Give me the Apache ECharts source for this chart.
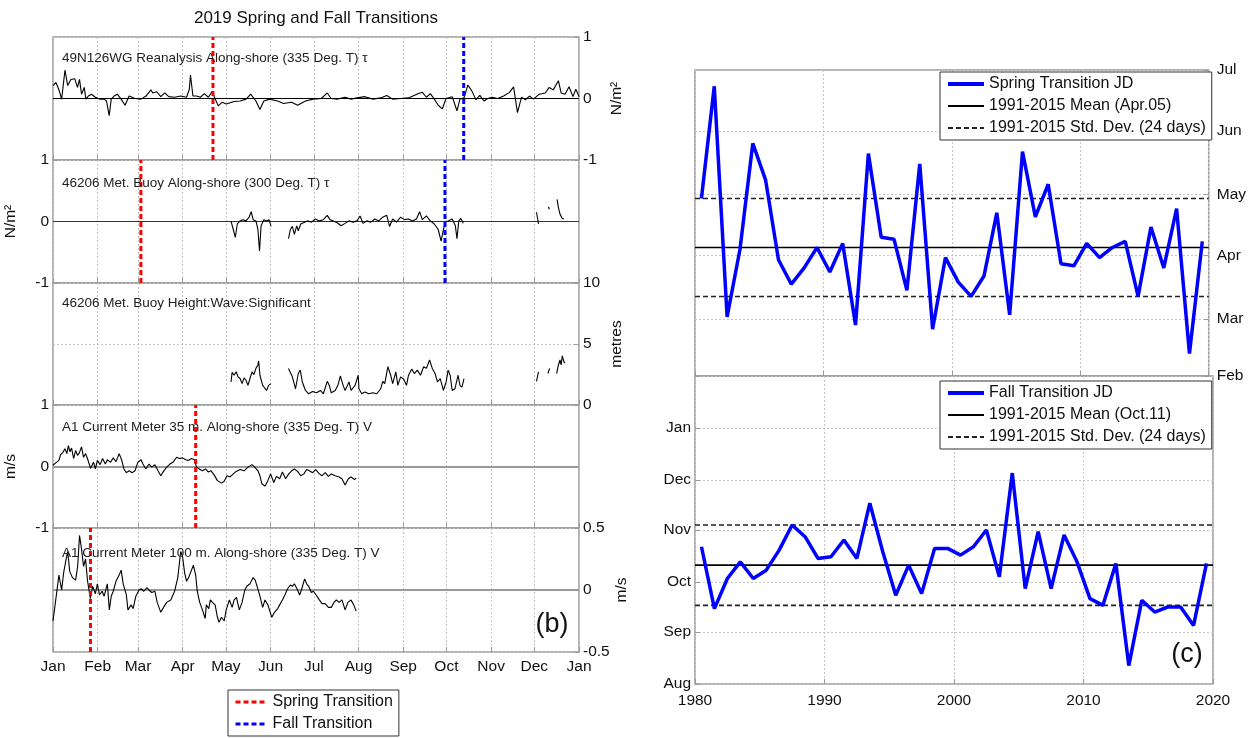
<!DOCTYPE html>
<html><head><meta charset="utf-8">
<script src="https://cdn.jsdelivr.net/npm/echarts@6/dist/echarts.min.js"></script>
<style>html,body{margin:0;padding:0;background:#fff}#c{width:1249px;height:738px}</style>
</head><body><div id="c"></div><script>
// ---------- left panel (b): day-of-year 2019 ----------
const monthDays = [0,31,59,90,120,151,181,212,243,273,304,334,365];
const monthLabels = ['Jan','Feb','Mar','Apr','May','Jun','Jul','Aug','Sep','Oct','Nov','Dec','Jan'];
const panelTitles = [
  '49N126WG Reanalysis Along-shore (335 Deg. T) \u03c4',
  '46206 Met. Buoy Along-shore (300 Deg. T) \u03c4',
  '46206 Met. Buoy Height:Wave:Significant',
  'A1 Current Meter 35 m. Along-shore (335 Deg. T) V',
  'A1 Current Meter 100 m. Along-shore (335 Deg. T) V'
];
const panelUnits = ['N/m\u00b2','N/m\u00b2','metres','m/s','m/s'];
const panelMin = [-1,-1,0,-1,-0.5];
const panelMax = [1,1,10,1,0.5];
const panelStep = [1,1,5,1,0.5];
const springDays = [111, 61, null, 99, 26];
const fallDays = [285, 272, null, null, null];

const windReanalysis = [[0,.21],[2,.26],[4,.15],[6,-.01],[8.3,.46],[10.2,.21],[12.4,.31],[15.1,.32],[17,.18],[18.4,.31],[19.8,.07],[21.7,.18],[22.8,-.01],[24.5,.04],[26.7,.07],[29.4,.02],[32.2,-.01],[35.5,-.01],[37.1,-.04],[39,-.28],[40.4,-.01],[42.4,.04],[44.6,.07],[47.3,-.01],[50,-.11],[52.8,.04],[56.9,0],[61,-.01],[64.6,.04],[67.9,.14],[69.3,.09],[72,.11],[74.8,.03],[77.6,.09],[80.3,.03],[84.4,.02],[88.6,.04],[92.7,.02],[94.6,.15],[95.4,.38],[97.1,.04],[99.6,.04],[102.3,.02],[105,.08],[107.8,.02],[110.6,.12],[112,.02],[114.7,-.12],[117.4,-.06],[120.2,-.09],[125.7,-.05],[129.8,-.04],[134,-.01],[137.2,.07],[140.8,-.04],[143.6,-.18],[146.3,-.04],[150.4,-.01],[155.9,-.04],[160,-.08],[165.6,-.06],[169.7,-.11],[175.2,-.04],[180.7,-.01],[186.2,0],[190.3,.09],[193,0],[197.2,-.01],[202.7,.02],[206.8,-.01],[211,.01],[216.4,.03],[222,-.01],[227.4,.01],[231.6,.05],[235.7,-.01],[241.2,0],[246.7,.01],[253.6,.08],[256.3,.1],[259.1,.02],[261.8,.08],[264.6,-.01],[267.3,-.11],[270.1,-.17],[272.8,0],[277,.03],[280.3,-.2],[282.4,-.01],[285.2,.01],[287.9,.22],[290.7,.12],[293.5,-.02],[296.2,.05],[299,-.04],[301.7,0],[304.5,.02],[308.6,0],[312.7,.04],[316.8,.1],[319.6,.19],[322.3,-.23],[325.1,.02],[327.8,-.02],[330.6,.04],[333.3,-.01],[337.5,.07],[341.6,.09],[344.3,.18],[347.1,.14],[350.7,.29],[352.6,.09],[355.3,.07],[358.1,.19],[360.8,.03],[362.8,.15],[365,.03]];

const windBuoy = [[123.5,.01],[125.1,-.13],[126.5,-.26],[127.9,-.04],[129.8,.01],[131.7,.03],[133.9,.01],[136.1,.07],[137.5,.16],[138.9,.03],[140.8,.01],[142.2,-.13],[143.3,-.48],[144.4,-.07],[146.3,.03],[148.2,.01],[149.9,.03],[151.3,-.08],[157,null],
[163.4,-.28],[164.7,-.13],[166.1,-.08],[167.5,-.21],[169.1,-.07],[170.2,-.15],[171.9,-.04],[173.8,-.02],[176.6,.01],[179.3,-.01],[182.1,.04],[184.8,.01],[187.6,.03],[190.3,.1],[192.2,.03],[194.4,.01],[197.2,-.02],[199.9,-.07],[202.7,-.03],[205.4,.01],[208.2,-.01],[210.9,.01],[213.1,.09],[215.1,-.03],[217.8,.01],[220.6,-.01],[223.3,.04],[226.1,.01],[228.8,.07],[231.6,.1],[233.5,-.08],[235.7,.04],[238.4,-.01],[241.2,.07],[243.9,.03],[246.7,.04],[249.4,.01],[252.2,.04],[254.4,.16],[256.3,.03],[259.1,.09],[261.8,.01],[264.6,-.04],[267.3,-.13],[269.3,-.32],[270.9,-.13],[272.3,-.01],[274.2,.01],[277,.04],[279.2,-.07],[280.3,-.28],[281.6,.01],[283,.05],[284.7,-.03],[300,null],
[335.5,.15],[336.9,-.04],[340,null],[343.8,.24],[344.4,.2],[347,null],[349.8,.36],[350.7,.23],[351.8,.12],[353.4,.05],[354.5,.04]];

const waveHeight = [[123.5,1.89],[124.3,2.67],[125.7,2.44],[127.1,2.72],[128.4,2.31],[129.8,2.17],[131.2,1.75],[132.6,2.22],[133.9,2.03],[135.3,1.61],[136.7,2.17],[138.1,2.72],[139.4,2.5],[140.8,3.0],[142.2,3.28],[142.7,3.61],[143.6,2.44],[144.4,2.58],[145.5,1.61],[146.9,1.39],[148.2,1.19],[149.6,1.61],[151.3,1.75],[157,null],
[163.4,3.0],[164.7,2.86],[166.1,2.31],[168.3,1.33],[170.2,2.58],[171.6,2.86],[173,1.89],[175.2,1.19],[177.4,0.92],[180.1,1.11],[182.9,1.0],[185.6,1.19],[187.6,0.92],[190.3,1.94],[191.7,1.61],[193.1,1.0],[195.8,1.19],[197.7,1.61],[199.4,2.39],[201.3,1.61],[202.7,1.19],[205.4,1.89],[206.8,1.19],[209.6,1.61],[211.8,2.44],[212.3,1.33],[214.2,0.92],[216.4,1.06],[219.2,0.92],[221.9,1.0],[224.7,0.92],[227.4,1.33],[228.8,1.94],[230.2,1.75],[232.4,3.14],[234.3,2.44],[235.7,1.75],[237.9,2.72],[239.3,1.61],[241.2,2.31],[243.4,2.11],[245.3,1.61],[246.7,2.44],[248.9,2.94],[250.8,2.58],[252.8,2.86],[255,2.44],[257.2,3.14],[259.1,3.0],[261.3,3.69],[263.2,3.0],[265.1,2.58],[266.8,1.89],[268.7,2.17],[270.9,1.19],[272.8,1.89],[274.2,2.86],[275.6,2.44],[277,1.19],[278.9,1.33],[281.1,2.44],[282.4,1.61],[283.8,1.47],[285.2,2.17],[300,null],
[335.5,1.94],[336.9,2.72],[340,null],[343.4,2.58],[344.6,3.0],[347,null],[349.5,2.58],[350.7,3.28],[351.8,3.69],[352.6,3.28],[353.4,4.03],[354.5,3.56],[355.3,3.42]];

const current35 = [[0,.02],[1.9,.06],[4.1,.1],[5.2,.19],[6.9,.23],[8.3,.29],[9.6,.21],[10.7,.34],[11.8,.24],[12.9,.3],[14.3,.13],[15.7,.26],[17.1,.18],[18.4,.23],[19.8,.32],[21.2,.15],[22.6,.21],[23.9,.13],[26.1,-.03],[28.1,.07],[29.4,-.04],[30.8,.1],[32.7,.03],[34.4,.13],[36.3,.04],[37.7,.11],[39.9,.07],[41.8,.14],[43.7,.08],[45.9,.21],[47.6,.11],[49.2,-.04],[50.9,-.1],[52.8,-.07],[55,-.1],[56.9,-.07],[58.9,.07],[61.1,.11],[62.4,.04],[64.4,-.04],[66.6,.04],[68.5,-.01],[70.7,.03],[72.9,-.07],[74.8,-.15],[76.7,-.08],[78.9,-.01],[81.1,.04],[83.3,.07],[85.8,.15],[87.7,.13],[89.9,.14],[92.1,.11],[94.1,.1],[96,.13],[98.2,.11],[99.6,-.01],[101.5,-.04],[103.7,-.07],[105.9,-.04],[107.8,-.09],[109.7,-.07],[111.9,-.14],[114.1,-.23],[116.9,-.27],[118.8,-.24],[120.7,-.15],[122.9,-.17],[125.1,-.12],[127.1,-.08],[129.8,-.05],[132.6,-.07],[135.3,-.01],[138.1,.03],[140,-.01],[142.2,-.07],[143.6,-.15],[144.9,-.28],[147.1,-.32],[149.1,-.23],[151,-.12],[153.2,-.26],[155.1,-.16],[157.3,-.2],[159.2,-.09],[161.4,-.2],[163.6,-.12],[165.6,-.07],[167.5,-.04],[169.7,-.08],[171.9,-.15],[174.1,-.12],[176,-.05],[177.9,-.07],[180.1,-.1],[182.3,-.05],[184.8,-.12],[186.7,-.15],[188.9,-.1],[191.1,-.16],[193.1,-.12],[195.8,-.15],[198.6,-.17],[200.5,-.2],[202.7,-.3],[204.9,-.2],[206.8,-.17],[209,-.21],[210.4,-.19]];

const current100 = [[0,-.25],[1.9,-.08],[4.1,.12],[6,0],[7.4,.14],[8.8,.23],[10.2,.31],[11.6,.15],[13.5,.1],[15.7,.08],[17.1,.19],[18.4,.44],[19.8,.33],[21.2,.19],[22.6,.25],[23.9,.08],[25.9,-.07],[27.5,.03],[29.4,-.03],[30.8,.05],[32.2,-.04],[34.1,-.01],[35.5,-.05],[37.7,.05],[39.1,-.16],[40.4,-.05],[41.8,-.01],[43.7,.07],[45.9,.12],[47.3,.16],[48.7,.05],[50.9,-.04],[52,-.16],[54.2,-.12],[55.6,-.15],[57.5,-.05],[59.7,0],[61.1,.01],[63,-.01],[65.2,.02],[66.6,0],[68.5,-.02],[70.7,-.01],[72.3,-.1],[74.8,-.18],[76.7,-.14],[78.9,-.1],[81.7,-.08],[84.4,-.01],[86.6,.1],[88.6,.31],[89.9,.27],[91.3,.14],[92.7,.07],[94.1,.1],[95.4,.11],[97.4,.2],[99,.12],[100.1,-.01],[101.8,-.1],[103.7,-.16],[105.6,-.23],[106.4,-.12],[108.1,-.15],[109.2,-.08],[110.6,-.1],[112.5,-.12],[114.1,-.22],[115.2,-.26],[116.9,-.22],[118.8,-.25],[120.2,-.16],[122.4,-.08],[124.3,-.14],[125.7,-.08],[127.3,-.06],[129.3,-.16],[131.2,-.1],[133.1,0],[134.5,.03],[136.7,.05],[138.9,.1],[140.3,.08],[141.6,.03],[143.6,-.05],[145.5,-.14],[147.1,-.08],[149.1,-.12],[151.8,-.22],[153.7,-.18],[155.9,-.15],[157.3,-.12],[159.2,-.08],[160.9,-.04],[162.8,.01],[164.7,.04],[166.1,.03],[167.5,.05],[169.7,0],[171.1,-.04],[172.4,0],[174.6,.09],[176,.05],[177.4,.03],[179.3,-.02],[180.7,-.01],[182.6,-.04],[184.8,-.08],[186.7,-.11],[188.9,-.11],[191.1,-.14],[193.1,-.14],[195,-.1],[196.6,-.08],[198.6,-.1],[200.5,-.08],[202.7,-.16],[204.6,-.1],[206.8,-.08],[208.7,-.12],[210.4,-.17]];

const panelData = [windReanalysis, windBuoy, waveHeight, current35, current100];

// ---------- right panel (c): transition julian day by year ----------
const years = [1980,1981,1982,1983,1984,1985,1986,1987,1988,1989,1990,1991,1992,1993,1994,1995,1996,1997,1998,1999,2000,2001,2002,2003,2004,2005,2006,2007,2008,2009,2010,2011,2012,2013,2014,2015,2016,2017,2018,2019];
const springJD = [119,174,61,94,146,128,89,77,85,95,83,97,57,141,100,99,74,136,55,90,78,71,81,112,62,142,110,126,87,86,97,90,95,98,71,105,85,114,43,98];
const fallJD = [295,258,276,286,276,281,293,308,301,288,289,299,288,321,292,266,284,267,294,294,290,295,305,277,339,270,304,270,302,286,264,260,285,224,263,256,259,259,248,285];
const springMean = 95, fallMean = 284, stdDays = 24;
const springTickDays = [32,60,91,121,152,182];
const springTickLabels = ['Feb','Mar','Apr','May','Jun','Jul'];
const fallTickDays = [213,244,274,305,335,366,397];
const fallTickLabels = ['Aug','Sep','Oct','Nov','Dec','Jan',''];

// ---------- build ----------
const FONT = '"Liberation Sans", Arial, sans-serif';
const GRAY = '#9a9a9a';
const leftTops = [37,160,283,405,528];
const leftHeights = [123,123,122,123,124];
const STD_NAME = '1991-2015 Std. Dev. (24 days)';

const grids = [], xAxes = [], yAxes = [], series = [];
const splitDotted = {show:true, lineStyle:{color:'#c4c4c4', type:[2,2], width:1}};
for (let i = 0; i < 5; i++) {
  grids.push({left:53, width:526, top:leftTops[i], height:leftHeights[i], show:true, borderColor:GRAY, borderWidth:1.5, backgroundColor:'transparent'});
  xAxes.push({type:'value', gridIndex:i, min:0, max:365,
    axisLine:{show:false, onZero:false},
    axisTick:{show:true, inside:true, length:5, lineStyle:{color:GRAY}, customValues:monthDays},
    axisLabel:{show:i===4, customValues:monthDays, margin:7, fontFamily:FONT, fontSize:15.5, color:'#111',
      formatter:v => monthLabels[monthDays.indexOf(Math.round(v))]},
    splitLine:splitDotted});
  const right = (i % 2 === 0);
  yAxes.push({type:'value', gridIndex:i, min:panelMin[i], max:panelMax[i], interval:panelStep[i],
    position: right ? 'right' : 'left',
    name: panelUnits[i], nameLocation:'middle', nameRotate:90, nameGap: right ? 30 : 34,
    nameTextStyle:{fontFamily:FONT, fontSize:15.5, color:'#111'},
    axisLine:{show:false, onZero:false}, axisTick:{show:true, inside:true, length:5, lineStyle:{color:GRAY}},
    axisLabel:{fontFamily:FONT, fontSize:15.5, color:'#111', margin:4, showMinLabel:true, showMaxLabel:true},
    splitLine:splitDotted});
  const zeroStyle = (i <= 1) ? {color: i === 0 ? '#000' : '#333', width:1, type:'solid'} : {color:GRAY, width:1.8, type:'solid'};
  series.push({type:'line', name:panelTitles[i], xAxisIndex:i, yAxisIndex:i, data:panelData[i],
    showSymbol:false, symbol:'none', connectNulls:false, lineStyle:{color:'#000', width:1.1}, z:3,
    markLine: (i === 2) ? undefined : {silent:true, symbol:'none', label:{show:false}, lineStyle:zeroStyle, data:[{yAxis:0}], z:2}});
  if (springDays[i] !== null) {
    series.push({type:'line', name:'Spring Transition', xAxisIndex:i, yAxisIndex:i,
      data:[[springDays[i], panelMin[i]],[springDays[i], panelMax[i]]],
      symbol:'none', lineStyle:{color:'#ff0000', width:3, type:[5,3]}, itemStyle:{color:'#ff0000'}, z:5});
  }
  if (fallDays[i] !== null) {
    series.push({type:'line', name:'Fall Transition', xAxisIndex:i, yAxisIndex:i,
      data:[[fallDays[i], panelMin[i]],[fallDays[i], panelMax[i]]],
      symbol:'none', lineStyle:{color:'#0000ff', width:3, type:[5,3]}, itemStyle:{color:'#0000ff'}, z:5});
  }
}

// right panels
grids.push({left:695, width:518, top:70, height:306, show:true, borderColor:GRAY, borderWidth:1.5, backgroundColor:'transparent'});
grids.push({left:695, width:518, top:376, height:308, show:true, borderColor:GRAY, borderWidth:1.5, backgroundColor:'transparent'});
for (let k = 0; k < 2; k++) {
  xAxes.push({type:'value', gridIndex:5+k, min:1980, max:2020, interval:10,
    axisLine:{show:false, onZero:false}, axisTick:{show:true, inside:true, length:5, lineStyle:{color:GRAY}},
    axisLabel:{show:k===1, margin:9, fontFamily:FONT, fontSize:15.5, color:'#111', showMinLabel:true, showMaxLabel:true,
      formatter:v => String(v)},
    splitLine:splitDotted});
}
yAxes.push({type:'value', gridIndex:5, min:32, max:182, position:'right',
  axisLine:{show:false, onZero:false},
  axisTick:{show:true, inside:true, length:5, lineStyle:{color:GRAY}, customValues:springTickDays},
  axisLabel:{customValues:springTickDays, margin:8, fontFamily:FONT, fontSize:15.5, color:'#111',
    formatter:v => springTickLabels[springTickDays.indexOf(Math.round(v))]},
  splitLine:splitDotted});
yAxes.push({type:'value', gridIndex:6, min:213, max:397, position:'left',
  axisLine:{show:false, onZero:false},
  axisTick:{show:true, inside:true, length:5, lineStyle:{color:GRAY}, customValues:fallTickDays},
  axisLabel:{customValues:fallTickDays.slice(0,6), margin:4, fontFamily:FONT, fontSize:15.5, color:'#111',
    formatter:v => fallTickLabels[fallTickDays.indexOf(Math.round(v))]},
  splitLine:splitDotted});

const yearX = years.map(y => y + 0.5);
series.push({type:'line', name:'Spring Transition JD', xAxisIndex:5, yAxisIndex:5,
  data: yearX.map((x,i) => [x, springJD[i]]), symbol:'none', lineStyle:{color:'#0000ff', width:3.5}, itemStyle:{color:'#0000ff'}, z:4});
series.push({type:'line', name:'1991-2015 Mean (Apr.05)', xAxisIndex:5, yAxisIndex:5,
  data:[[1980, springMean],[2020, springMean]], symbol:'none', lineStyle:{color:'#000', width:1.6}, itemStyle:{color:'#000'}, z:3});
series.push({type:'line', name:STD_NAME, xAxisIndex:5, yAxisIndex:5,
  data:[[1980, springMean+stdDays],[2020, springMean+stdDays],[2020,'-'],[1980, springMean-stdDays],[2020, springMean-stdDays]],
  symbol:'none', lineStyle:{color:'#222', width:1.6, type:[5,3]}, itemStyle:{color:'#222'}, z:3});
series.push({type:'line', name:'Fall Transition JD', xAxisIndex:6, yAxisIndex:6,
  data: yearX.map((x,i) => [x, fallJD[i]]), symbol:'none', lineStyle:{color:'#0000ff', width:3.5}, itemStyle:{color:'#0000ff'}, z:4});
series.push({type:'line', name:'1991-2015 Mean (Oct.11)', xAxisIndex:6, yAxisIndex:6,
  data:[[1980, fallMean],[2020, fallMean]], symbol:'none', lineStyle:{color:'#000', width:1.6}, itemStyle:{color:'#000'}, z:3});
series.push({type:'line', name:STD_NAME, xAxisIndex:6, yAxisIndex:6,
  data:[[1980, fallMean+stdDays],[2020, fallMean+stdDays],[2020,'-'],[1980, fallMean-stdDays],[2020, fallMean-stdDays]],
  symbol:'none', lineStyle:{color:'#222', width:1.6, type:[5,3]}, itemStyle:{color:'#222'}, z:3});

const legendBase = {orient:'vertical', itemWidth:36, itemHeight:14, itemGap:6, padding:[4,6,4,6],
  borderColor:'#333', borderWidth:1, backgroundColor:'#fff', selectedMode:false,
  itemStyle:{opacity:0},
  textStyle:{fontFamily:FONT, fontSize:16, color:'#111'}};
const legends = [
  Object.assign({}, legendBase, {left:940, top:72, data:[
    {name:'Spring Transition JD', lineStyle:{width:4}},
    {name:'1991-2015 Mean (Apr.05)', lineStyle:{width:1.8}},
    {name:STD_NAME, lineStyle:{width:1.8}}]}),
  Object.assign({}, legendBase, {left:940, top:381, data:[
    {name:'Fall Transition JD', lineStyle:{width:4}},
    {name:'1991-2015 Mean (Oct.11)', lineStyle:{width:1.8}},
    {name:STD_NAME, lineStyle:{width:1.8}}]}),
  Object.assign({}, legendBase, {left:228, top:690, itemWidth:32, data:[
    {name:'Spring Transition', lineStyle:{width:3}},
    {name:'Fall Transition', lineStyle:{width:3}}]})
];

const graphics = [
  {type:'text', x:316, y:18, style:{text:'2019 Spring and Fall Transitions', font:'17px '+FONT, fill:'#111', textAlign:'center', textVerticalAlign:'middle'}},
  {type:'text', x:552, y:625, style:{text:'(b)', font:'27px '+FONT, fill:'#111', textAlign:'center', textVerticalAlign:'middle'}},
  {type:'text', x:1187, y:655, style:{text:'(c)', font:'27px '+FONT, fill:'#111', textAlign:'center', textVerticalAlign:'middle'}}
];
const titleY = [58,183,303,427,553];
for (let i = 0; i < 5; i++) {
  graphics.push({type:'text', x:62, y:titleY[i], z:10, style:{text:panelTitles[i], font:'13.5px '+FONT, fill:'#222', textVerticalAlign:'middle'}});
}

const chart = echarts.init(document.getElementById('c'), null, {renderer:'canvas'});
chart.setOption({animation:false, backgroundColor:'#fff', grid:grids, xAxis:xAxes, yAxis:yAxes, series:series, legend:legends, graphic:graphics});
</script></body></html>
